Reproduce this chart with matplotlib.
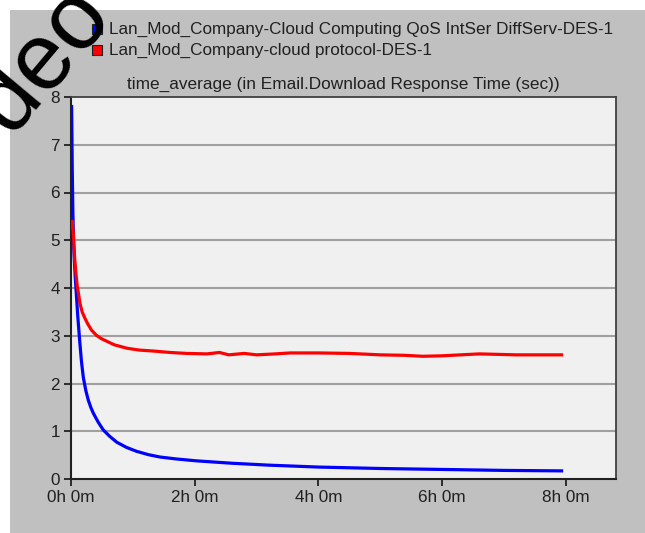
import matplotlib
matplotlib.use("Agg")
import matplotlib.pyplot as plt
from matplotlib.patches import Rectangle

# ---- data (hours, seconds) ----
blue_t = [0.01, 0.015, 0.02, 0.03, 0.04, 0.055, 0.07, 0.085, 0.11, 0.14, 0.17, 0.2,
          0.24, 0.28, 0.32, 0.36, 0.44, 0.52, 0.62, 0.74, 0.9, 1.06, 1.25, 1.44,
          1.7, 2.03, 2.6, 3.2, 4.0, 5.0, 6.0, 7.0, 7.93]
blue_v = [7.8, 7.2, 6.5, 5.6, 5.0, 4.55, 4.2, 3.9, 3.4, 2.9, 2.45, 2.12,
          1.85, 1.65, 1.5, 1.38, 1.19, 1.03, 0.9, 0.77, 0.66, 0.58, 0.51, 0.46,
          0.42, 0.38, 0.33, 0.29, 0.25, 0.22, 0.2, 0.18, 0.17]

red_t = [0.005, 0.02, 0.04, 0.06, 0.08, 0.1, 0.125, 0.145, 0.18, 0.22, 0.27, 0.33,
         0.41, 0.49, 0.57, 0.7, 0.9, 1.1, 1.33, 1.6, 1.87, 2.2, 2.4, 2.55, 2.8, 3.0,
         3.3, 3.54, 4.0, 4.5, 5.0, 5.4, 5.69, 6.0, 6.6, 7.2, 7.93]
red_v = [5.3, 5.4, 5.1, 4.6, 4.3, 4.05, 3.85, 3.68, 3.5, 3.38, 3.25, 3.12,
         3.01, 2.94, 2.89, 2.81, 2.74, 2.7, 2.68, 2.65, 2.63, 2.62, 2.65, 2.6, 2.63, 2.6,
         2.62, 2.64, 2.64, 2.63, 2.6, 2.59, 2.57, 2.58, 2.62, 2.6, 2.6]

series_labels = ["Lan_Mod_Company-Cloud Computing QoS IntSer DiffServ-DES-1",
                 "Lan_Mod_Company-cloud protocol-DES-1"]
series_colors = ["#0000ff", "#ff0000"]
title = "time_average (in Email.Download Response Time (sec))"
x_ticks = [0, 2, 4, 6, 8]
x_tick_labels = ["0h 0m", "2h 0m", "4h 0m", "6h 0m", "8h 0m"]
y_ticks = [0, 1, 2, 3, 4, 5, 6, 7, 8]

W, H = 645, 533
plt.rcParams['font.family'] = ['Liberation Sans', 'DejaVu Sans']
fig = plt.figure(figsize=(W / 100, H / 100), dpi=100)
fig.patch.set_facecolor("white")

# gray panel
fig.patches.append(Rectangle((10 / W, 0), 1, (H - 10) / H, transform=fig.transFigure,
                             facecolor="#c0c0c0", edgecolor="none", zorder=-5))

left, right, top, bottom = 71, 616, 97, 479
ax = fig.add_axes([left / W, (H - bottom) / H, (right - left) / W, (bottom - top) / H])
ax.set_zorder(1)
ax.set_facecolor("#f0f0f0")

for y in y_ticks[1:-1]:
    ax.axhline(y, color="#a0a0a0", lw=1.5, zorder=1)

ax.plot(blue_t, blue_v, color=series_colors[0], lw=2.3, zorder=3,
        solid_joinstyle="round")
ax.plot(red_t, red_v, color=series_colors[1], lw=2.3, zorder=3,
        solid_joinstyle="round")

ax.set_xlim(0, 8.81)
ax.set_ylim(0, 8)
ax.set_xticks(x_ticks)
ax.set_xticklabels(x_tick_labels)
ax.set_yticks(y_ticks)
ax.tick_params(axis="both", direction="out", length=5, width=1.3, colors="#202020",
               labelsize=12.3, labelcolor="#202020", pad=3)
for s in ["left", "bottom"]:
    ax.spines[s].set_color("#202020")
    ax.spines[s].set_linewidth(1.5)
for s in ["top", "right"]:
    ax.spines[s].set_color("#404040")
    ax.spines[s].set_linewidth(1.3)

fig.text((left + right) / 2 / W, 1 - 84 / H, title, ha="center", va="center",
         fontsize=12.4, color="#202020")

# legend
leg_y = [29, 50]
for lab, col, yy in zip(series_labels, series_colors, leg_y):
    fig.patches.append(Rectangle((92 / W, 1 - (yy + 5) / H), 10 / W, 10 / H,
                                 transform=fig.transFigure, facecolor=col,
                                 edgecolor="#202020", lw=0.8, zorder=2))
    fig.text(109 / W, 1 - yy / H, lab, ha="left", va="center", fontsize=12.3,
             color="#202020")

# watermark fragment
fig.text(43 / W, 1 - 60 / H, "deo", ha="center", va="center", rotation=50,
         fontsize=68, color="black", rotation_mode="anchor", zorder=10)

fig.savefig("out.png", dpi=100)
